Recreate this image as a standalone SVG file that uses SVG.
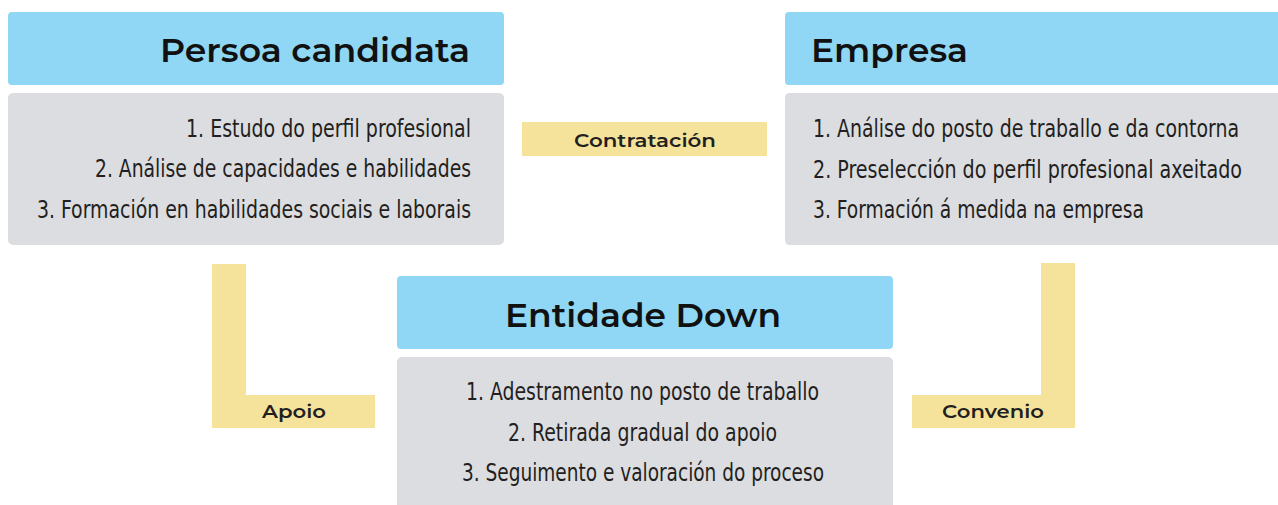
<svg xmlns="http://www.w3.org/2000/svg" width="1278" height="505" viewBox="0 0 1278 505">
<style>
.hdr{fill:#8fd7f4}
.body{fill:#dcdde0}
.conn{fill:#f5e39c}
.h{font-family:"Montserrat","Noto Sans","Open Sans",sans-serif;font-weight:600;font-size:34px;fill:#111}
.t{font-family:"Liberation Sans Narrow","DejaVu Sans Condensed","Liberation Sans",sans-serif;font-size:25px;fill:#231f20}
.l{font-family:"Montserrat","Noto Sans","Open Sans",sans-serif;font-weight:600;font-size:18px;fill:#231f20}
</style>
<rect width="1278" height="505" fill="#fff"/>
<g id="connectors">
<g id="c-contratacion">
<rect class="conn" x="522" y="122" width="245" height="34"/>
<text class="l" x="574" y="147" textLength="142" lengthAdjust="spacingAndGlyphs">Contratación</text>
</g>
<g id="c-apoio">
<path class="conn" d="M212 264 H246 V395 H375 V428 H212 Z"/>
<text class="l" x="262" y="418" textLength="64" lengthAdjust="spacingAndGlyphs">Apoio</text>
</g>
<g id="c-convenio">
<path class="conn" d="M1041 263 H1075 V428 H912 V395 H1041 Z"/>
<text class="l" x="942" y="418" textLength="102" lengthAdjust="spacingAndGlyphs">Convenio</text>
</g>
</g>
<g id="persoa">
<rect class="hdr" x="8" y="12" width="496" height="73" rx="4"/>
<rect class="body" x="8" y="93" width="496" height="152" rx="5"/>
<text class="h" x="160" y="62" textLength="310" lengthAdjust="spacingAndGlyphs">Persoa candidata</text>
<text class="t" x="186" y="137" textLength="285" lengthAdjust="spacingAndGlyphs">1. Estudo do perfil profesional</text>
<text class="t" x="95" y="177" textLength="376" lengthAdjust="spacingAndGlyphs">2. Análise de capacidades e habilidades</text>
<text class="t" x="37" y="218" textLength="434" lengthAdjust="spacingAndGlyphs">3. Formación en habilidades sociais e laborais</text>
</g>
<g id="empresa">
<path class="hdr" d="M789 12 H1278 V85 H789 Q785 85 785 81 V16 Q785 12 789 12 Z"/>
<path class="body" d="M790 93 H1278 V245 H790 Q785 245 785 240 V98 Q785 93 790 93 Z"/>
<text class="h" x="811" y="62" textLength="157" lengthAdjust="spacingAndGlyphs">Empresa</text>
<text class="t" x="813" y="137" textLength="426" lengthAdjust="spacingAndGlyphs">1. Análise do posto de traballo e da contorna</text>
<text class="t" x="813" y="178" textLength="429" lengthAdjust="spacingAndGlyphs">2. Preselección do perfil profesional axeitado</text>
<text class="t" x="813" y="218" textLength="331" lengthAdjust="spacingAndGlyphs">3. Formación á medida na empresa</text>
</g>
<g id="entidade">
<rect class="hdr" x="397" y="276" width="496" height="73" rx="4"/>
<rect class="body" x="397" y="357" width="496" height="160" rx="5"/>
<text class="h" x="505" y="327" textLength="276" lengthAdjust="spacingAndGlyphs">Entidade Down</text>
<text class="t" x="466" y="400" textLength="353" lengthAdjust="spacingAndGlyphs">1. Adestramento no posto de traballo</text>
<text class="t" x="508" y="441" textLength="269" lengthAdjust="spacingAndGlyphs">2. Retirada gradual do apoio</text>
<text class="t" x="462" y="481" textLength="362" lengthAdjust="spacingAndGlyphs">3. Seguimento e valoración do proceso</text>
</g>
</svg>
